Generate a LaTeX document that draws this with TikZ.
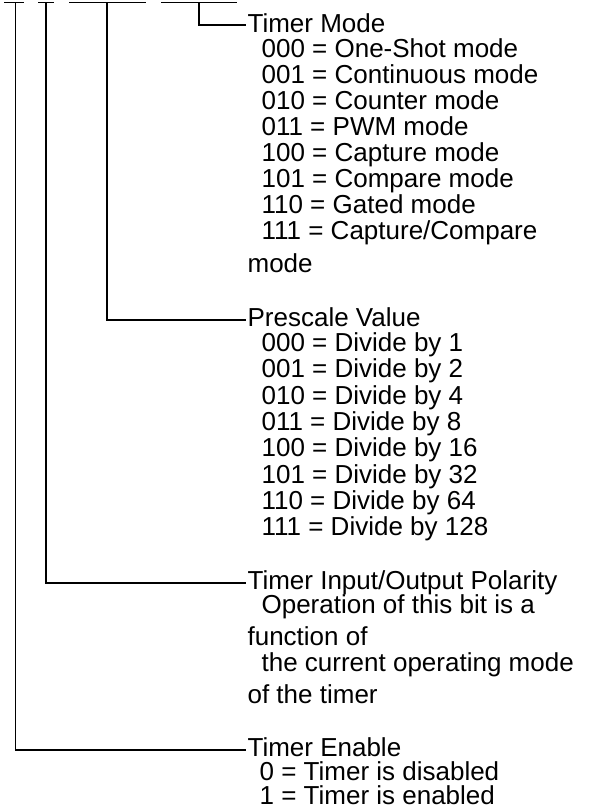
\documentclass[tikz,border=0pt]{standalone}
\usepackage{fontspec}
\setmainfont{Liberation Sans}
\begin{document}
\begin{tikzpicture}[x=1pt,y=-1pt,line width=1.2pt,
  txt/.style={anchor=base west,inner sep=0pt,font=\fontsize{26}{26}\selectfont}]
\useasboundingbox (0,0) rectangle (592,809);
% top brackets
\coordinate (a1) at (4,2.5);   \coordinate (a2) at (24,2.5);  \coordinate (v1) at (15.5,2.5);
\coordinate (c1) at (38,2.5);  \coordinate (c2) at (54,2.5);  \coordinate (v2) at (46,2.5);
\coordinate (d1) at (69,2.5);  \coordinate (d2) at (146,2.5); \coordinate (v3) at (107,2.5);
\coordinate (e1) at (161,2.5); \coordinate (e2) at (237,2.5); \coordinate (v4) at (199,2.5);
\draw (a1) -- (a2); \draw (c1) -- (c2); \draw (d1) -- (d2); \draw (e1) -- (e2);
% Timer Mode
\node[txt] (tm) at (247,32) {Timer Mode};
\node[txt] (tm0) at (261,57) {000 = One-Shot mode};
\node[txt] (tm1) at (261,83) {001 = Continuous mode};
\node[txt] (tm2) at (261,109) {010 = Counter mode};
\node[txt] (tm3) at (261,135) {011 = PWM mode};
\node[txt] (tm4) at (261,161) {100 = Capture mode};
\node[txt] (tm5) at (261,187) {101 = Compare mode};
\node[txt] (tm6) at (261,213) {110 = Gated mode};
\node[txt] (tm7) at (261,239) {111 = Capture/Compare};
\node[txt] (tm8) at (247,272) {mode};
% Prescale
\node[txt] (ps) at (247,326) {Prescale Value};
\node[txt] (ps0) at (261,351) {000 = Divide by 1};
\node[txt] (ps1) at (261,377) {001 = Divide by 2};
\node[txt] (ps2) at (261,404) {010 = Divide by 4};
\node[txt] (ps3) at (261,430) {011 = Divide by 8};
\node[txt] (ps4) at (261,456) {100 = Divide by 16};
\node[txt] (ps5) at (261,483) {101 = Divide by 32};
\node[txt] (ps6) at (261,509) {110 = Divide by 64};
\node[txt] (ps7) at (261,535) {111 = Divide by 128};
% Polarity
\node[txt] (po) at (247,589) {Timer Input/Output Polarity};
\node[txt] (po1) at (261,613) {Operation of this bit is a};
\node[txt] (po2) at (247,645) {function of};
\node[txt] (po3) at (261,671) {the current operating mode};
\node[txt] (po4) at (247,703) {of the timer};
% Enable
\node[txt] (en) at (247,756) {Timer Enable};
\node[txt] (en0) at (259,780) {0 = Timer is disabled};
\node[txt] (en1) at (259,804) {1 = Timer is enabled};
% connectors
\draw (v4) |- ([shift={(-1,-7)}]tm.base west);
\draw (v3) |- ([shift={(-1,-6)}]ps.base west);
\draw (v2) |- ([shift={(-1,-6)}]po.base west);
\draw (v1) |- ([shift={(-1,-6)}]en.base west);
\end{tikzpicture}
\end{document}
